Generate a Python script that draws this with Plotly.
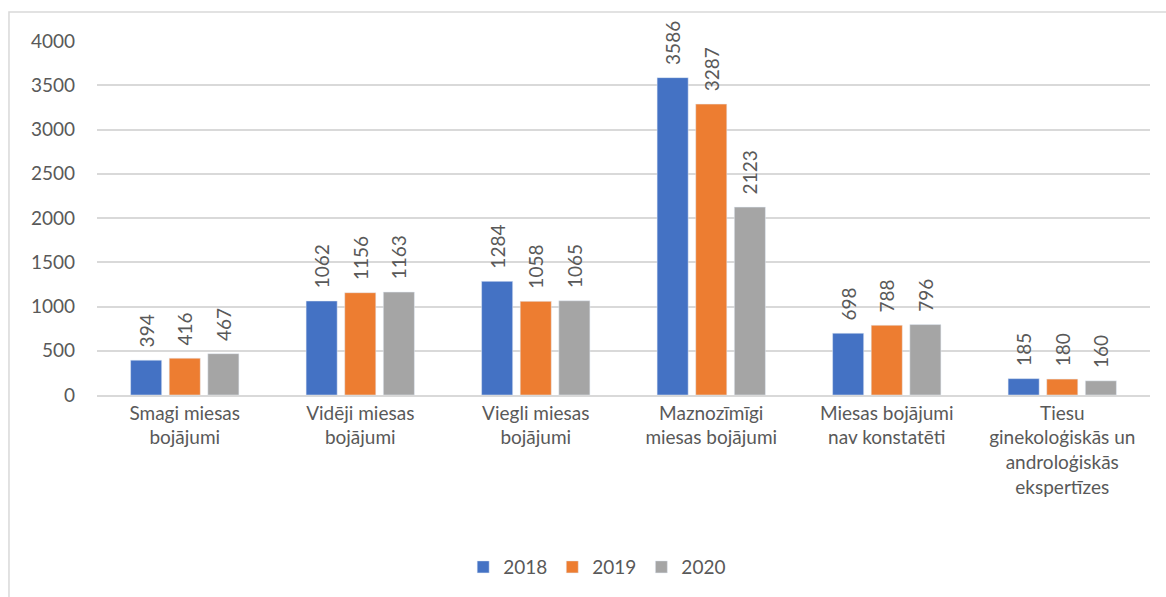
import plotly.graph_objects as go

categories = [
    "Smagi miesas<br>bojājumi",
    "Vidēji miesas<br>bojājumi",
    "Viegli miesas<br>bojājumi",
    "Maznozīmīgi<br>miesas bojājumi",
    "Miesas bojājumi<br>nav konstatēti",
    "Tiesu<br>ginekoloģiskās un<br>androloģiskās<br>ekspertīzes",
]
years = ["2018", "2019", "2020"]
values_2018 = [394, 1062, 1284, 3586, 698, 185]
values_2019 = [416, 1156, 1058, 3287, 788, 180]
values_2020 = [467, 1163, 1065, 2123, 796, 160]
colors = ["#4472C4", "#ED7D31", "#A5A5A5"]
y_ticks = [0, 500, 1000, 1500, 2000, 2500, 3000, 3500, 4000]

FONT = "Lato, 'Open Sans', sans-serif"
TXT = "#595959"

fig = go.Figure()
for name, vals, col in zip(years, [values_2018, values_2019, values_2020], colors):
    fig.add_trace(go.Bar(
        name=name, x=categories, y=vals, marker_color=col,
        text=["\u00a0\u00a0" + str(v) for v in vals], textposition="outside",
        textangle=-90, constraintext="none",
        textfont=dict(family=FONT, size=19, color=TXT), cliponaxis=False,
    ))

fig.update_layout(
    width=1166, height=597,
    margin=dict(l=97, r=16, t=41, b=202, autoexpand=False),
    paper_bgcolor="white", plot_bgcolor="white",
    barmode="group", bargap=0.34, bargroupgap=0.195,
    font=dict(family=FONT, size=19, color=TXT),
    showlegend=True,
    legend=dict(orientation="h", x=0.475, xanchor="center", y=-0.486, yanchor="middle",
                font=dict(family=FONT, size=19, color=TXT), traceorder="normal",
                itemwidth=30),
    xaxis=dict(showgrid=False, showline=True, linecolor="#D9D9D9", linewidth=1.5,
               ticks="", automargin=False, tickfont=dict(family=FONT, size=19, color=TXT)),
    yaxis=dict(range=[0, 4000], tickvals=y_ticks, showgrid=True, gridcolor="#D9D9D9",
               gridwidth=1.5, zeroline=False, showline=False, ticks="", automargin=False,
               ticklabelstandoff=21, tickfont=dict(family=FONT, size=19, color=TXT)),
    shapes=[dict(type="rect", xref="paper", yref="paper", x0=-0.0836, x1=1.04,
                 y0=-0.6, y1=1.082, line=dict(color="#D9D9D9", width=1.5),
                 fillcolor="rgba(0,0,0,0)", layer="below")],
)

fig.write_html("out.html", config={"displayModeBar": False},
               post_script="document.body.style.margin='0';document.body.style.overflow='hidden';")
